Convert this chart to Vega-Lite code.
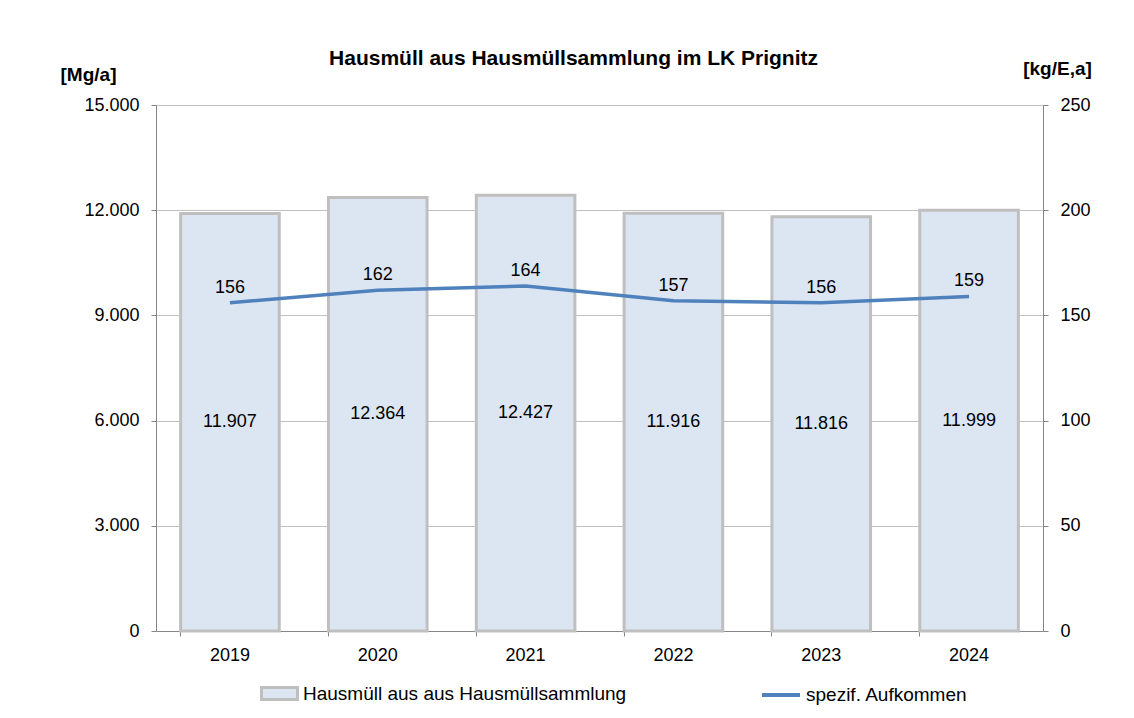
{
  "$schema": "https://vega.github.io/schema/vega-lite/v6.json",
  "width": 887,
  "height": 526,
  "autosize": "none",
  "padding": {"left": 156, "top": 105, "right": 91, "bottom": 87},
  "config": {
    "locale": {"number": {"decimal": ",", "thousands": ".", "grouping": [3], "currency": ["", " €"]}},
    "font": "Liberation Sans",
    "view": {"stroke": null},
    "axis": {
      "labelFont": "Liberation Sans", "labelFontSize": 18, "labelColor": "#000000",
      "titleFont": "Liberation Sans", "titleFontSize": 19, "titleColor": "#000000",
      "domainColor": "#868686", "tickColor": "#868686", "domainWidth": 1, "tickWidth": 1
    },
    "legend": {"labelFont": "Liberation Sans", "labelFontSize": 19, "labelColor": "#000000"}
  },
  "title": {
    "text": "Hausmüll aus Hausmüllsammlung im LK Prignitz",
    "font": "Liberation Sans", "fontSize": 21, "fontWeight": "bold", "color": "#000000",
    "anchor": "middle", "frame": "group", "dx": -26, "offset": -10
  },
  "data": {
    "values": [
      {"Jahr": "2019", "Hausmuell": 11907, "spez": 156},
      {"Jahr": "2020", "Hausmuell": 12364, "spez": 162},
      {"Jahr": "2021", "Hausmuell": 12427, "spez": 164},
      {"Jahr": "2022", "Hausmuell": 11916, "spez": 157},
      {"Jahr": "2023", "Hausmuell": 11816, "spez": 156},
      {"Jahr": "2024", "Hausmuell": 11999, "spez": 159}
    ]
  },
  "layer": [
    {
      "mark": {"type": "bar", "stroke": "#bfbfbf", "strokeWidth": 3},
      "encoding": {
        "x": {
          "field": "Jahr", "type": "ordinal",
          "scale": {"paddingInner": 0.333, "paddingOuter": 0.1667},
          "axis": {"title": null, "labelAngle": 0, "ticks": false, "tickSize": 0, "labelPadding": 15, "domain": true}
        },
        "y": {
          "field": "Hausmuell", "type": "quantitative",
          "scale": {"domain": [0, 15000], "nice": false},
          "axis": {
            "title": "[Mg/a]", "titleAngle": 0, "titleX": -68, "titleY": -31,
            "titleAlign": "center", "titleBaseline": "middle", "titleFontWeight": "bold",
            "values": [0, 3000, 6000, 9000, 12000, 15000],
            "labelExpr": "replace(format(datum.value, ','), ',', '.')",
            "grid": true, "gridColor": "#c0c0c0", "tickSize": 5, "labelPadding": 12
          }
        },
        "fill": {
          "datum": "Hausmüll aus aus Hausmüllsammlung",
          "scale": {"range": ["#dce6f2"]},
          "legend": {
            "title": null, "orient": "none", "legendX": 104, "legendY": 569, "padding": 0,
            "symbolType": "M-1,-0.33H1V0.33H-1Z", "symbolSize": 1296,
            "symbolStrokeColor": "#bfbfbf", "symbolStrokeWidth": 3,
            "labelOffset": 4, "labelLimit": 500
          }
        }
      }
    },
    {
      "mark": {"type": "text", "fontSize": 18, "color": "#000000", "baseline": "middle"},
      "encoding": {
        "x": {"field": "Jahr", "type": "ordinal", "axis": null},
        "y": {"field": "Hausmuell", "type": "quantitative", "scale": {"domain": [0, 30000], "nice": false}, "axis": null},
        "text": {"field": "Hausmuell", "type": "quantitative", "format": ",d"}
      }
    },
    {
      "mark": {"type": "line", "strokeWidth": 3.5},
      "encoding": {
        "x": {
          "field": "Jahr", "type": "ordinal",
          "axis": {"orient": "bottom", "title": null, "bandPosition": 0, "labels": false, "ticks": true, "tickSize": 5, "domain": false, "grid": false}
        },
        "y": {
          "field": "spez", "type": "quantitative",
          "scale": {"domain": [0, 250], "nice": false},
          "axis": {
            "orient": "right", "title": "[kg/E,a]", "titleAngle": 0, "titleX": 14, "titleY": -37,
            "titleAlign": "center", "titleBaseline": "middle", "titleFontWeight": "bold",
            "values": [0, 50, 100, 150, 200, 250], "grid": false, "tickSize": 5, "labelPadding": 12
          }
        },
        "stroke": {
          "datum": "spezif. Aufkommen",
          "scale": {"range": ["#4f81bd"]},
          "legend": {
            "title": null, "orient": "none", "legendX": 604, "legendY": 569, "padding": 0,
            "symbolType": "stroke", "symbolSize": 1444, "symbolStrokeWidth": 4,
            "labelOffset": 4, "labelLimit": 500
          }
        }
      }
    },
    {
      "mark": {"type": "text", "fontSize": 18, "color": "#000000", "baseline": "middle", "dy": -15},
      "encoding": {
        "x": {"field": "Jahr", "type": "ordinal", "axis": null},
        "y": {"field": "spez", "type": "quantitative", "scale": {"domain": [0, 250], "nice": false}, "axis": null},
        "text": {"field": "spez", "type": "quantitative"}
      }
    }
  ],
  "resolve": {"scale": {"y": "independent"}, "axis": {"x": "independent", "y": "independent"}}
}
